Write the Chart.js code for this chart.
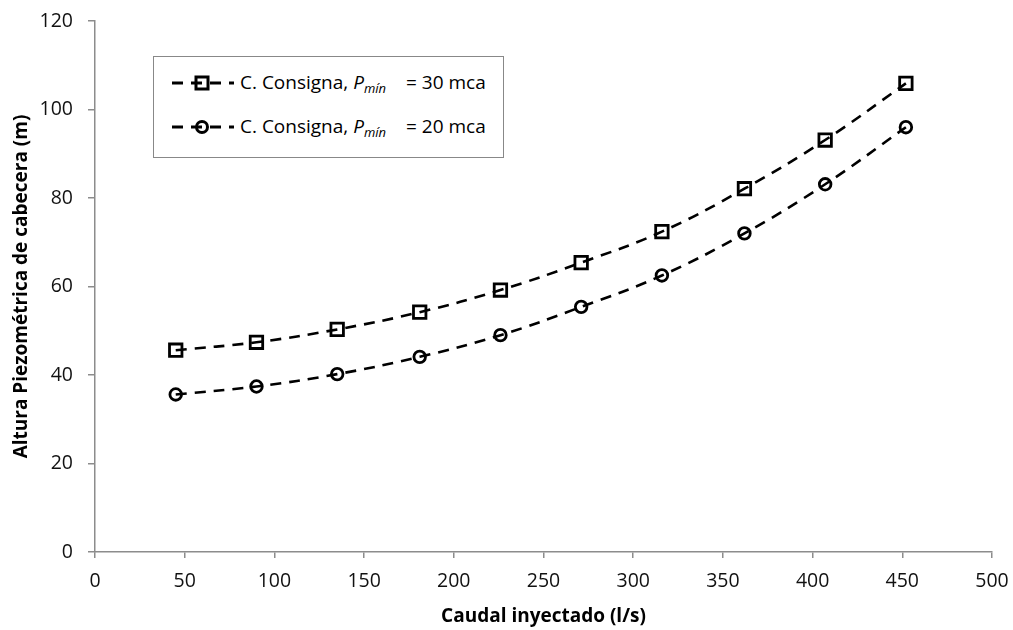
<!DOCTYPE html>
<html>
<head>
<meta charset="utf-8">
<script src="https://cdn.jsdelivr.net/npm/chart.js@4.4.0/dist/chart.umd.min.js"></script>
<style>
  html, body { margin: 0; padding: 0; background: #fff; }
  #wrap { position: relative; width: 1013px; height: 630px; }
  #legend {
    position: absolute; left: 153px; top: 56px; width: 351px; height: 102px;
    border: 1px solid #888; background: #fff; box-sizing: border-box;
    font-family: "Open Sans", sans-serif; font-size: 19px; color: #000;
  }
  .row { position: absolute; left: 18px; height: 26px; display: flex; align-items: center; white-space: nowrap; }
  .row svg { margin-right: 6px; }
  .row sub { font-size: 13px; vertical-align: -4px; }
  .gap { display: inline-block; width: 20px; }
</style>
</head>
<body>
<div id="wrap">
  <canvas id="c" width="1013" height="630"></canvas>
  <div id="legend">
    <div class="row" style="top:13px">
      <svg width="62" height="18"><line x1="0" y1="9" x2="62" y2="9" stroke="#000" stroke-width="3" stroke-dasharray="11,8"/><rect x="24" y="3" width="12" height="12" fill="none" stroke="#000" stroke-width="3"/></svg>
      <span>C. Consigna, <i>P<sub>mín</sub></i><span class="gap"></span>= 30 mca</span>
    </div>
    <div class="row" style="top:57px">
      <svg width="62" height="18"><line x1="0" y1="9" x2="62" y2="9" stroke="#000" stroke-width="3" stroke-dasharray="11,8"/><circle cx="30" cy="9" r="5.5" fill="none" stroke="#000" stroke-width="3"/></svg>
      <span>C. Consigna, <i>P<sub>mín</sub></i><span class="gap"></span>= 20 mca</span>
    </div>
  </div>
</div>
<script>
const caudal = [45, 90, 135, 181, 226, 271, 316, 362, 407, 452];
const pmin30 = [45.6, 47.4, 50.3, 54.2, 59.2, 65.4, 72.4, 82.1, 93.1, 105.9];
const pmin20 = [35.6, 37.4, 40.2, 44.1, 49.0, 55.4, 62.5, 72.0, 83.1, 96.0];
const xTicks = [0, 50, 100, 150, 200, 250, 300, 350, 400, 450, 500];
const yTicks = [0, 20, 40, 60, 80, 100, 120];

const font = "'Open Sans', sans-serif";
const axisGray = '#8c8c8c';

function pts(ys) {
    return caudal.map((x, i) => ({ x: x, y: ys[i] }));
}

function serie(label, ys, style, radius) {
    return {
        label: label,
        data: pts(ys),
        borderColor: '#000',
        borderWidth: 2.6,
        borderDash: [11, 8],
        tension: 0.4,
        pointStyle: style,
        pointRadius: radius,
        pointBorderWidth: 2.8,
        pointBorderColor: '#000',
        pointBackgroundColor: 'rgba(0,0,0,0)',
        fill: false
    };
}

const ctx = document.getElementById('c').getContext('2d');
new Chart(ctx, {
    type: 'line',
    data: {
        datasets: [
            serie('C. Consigna, Pmín = 30 mca', pmin30, 'rect', 8.8),
            serie('C. Consigna, Pmín = 20 mca', pmin20, 'circle', 5.8)
        ]
    },
    options: {
        responsive: false,
        animation: false,
        layout: { padding: { left: 0, right: 21, top: 21, bottom: 0 } },
        plugins: { legend: { display: false }, tooltip: { enabled: false } },
        scales: {
            x: {
                type: 'linear',
                min: 0, max: 500,
                afterBuildTicks: s => { s.ticks = xTicks.map(v => ({ value: v })); },
                afterFit: s => { s.height = 78; s.paddingLeft = 0; s.paddingRight = 0; },
                ticks: { color: '#111', font: { family: font, size: 19.5 }, padding: 12 },
                grid: { drawOnChartArea: false, drawTicks: true, tickLength: 6, color: axisGray, lineWidth: 1.5 },
                border: { color: axisGray, width: 1.5 },
                title: { display: true, text: 'Caudal inyectado (l/s)', color: '#000',
                         font: { family: font, size: 19, weight: 'bold' }, padding: { top: 4, bottom: 2 } }
            },
            y: {
                min: 0, max: 120,
                afterBuildTicks: s => { s.ticks = yTicks.map(v => ({ value: v })); },
                afterFit: s => { s.width = 95; s.paddingTop = 0; s.paddingBottom = 0; },
                ticks: { color: '#111', font: { family: font, size: 19.5 }, padding: 15 },
                grid: { drawOnChartArea: false, drawTicks: true, tickLength: 7, color: axisGray, lineWidth: 1.5 },
                border: { color: axisGray, width: 1.5 },
                title: { display: true, text: 'Altura Piezométrica de cabecera (m)', color: '#000',
                         font: { family: font, size: 19, weight: 'bold' }, padding: { top: 10, bottom: 4 } }
            }
        }
    }
});
</script>
</body>
</html>
